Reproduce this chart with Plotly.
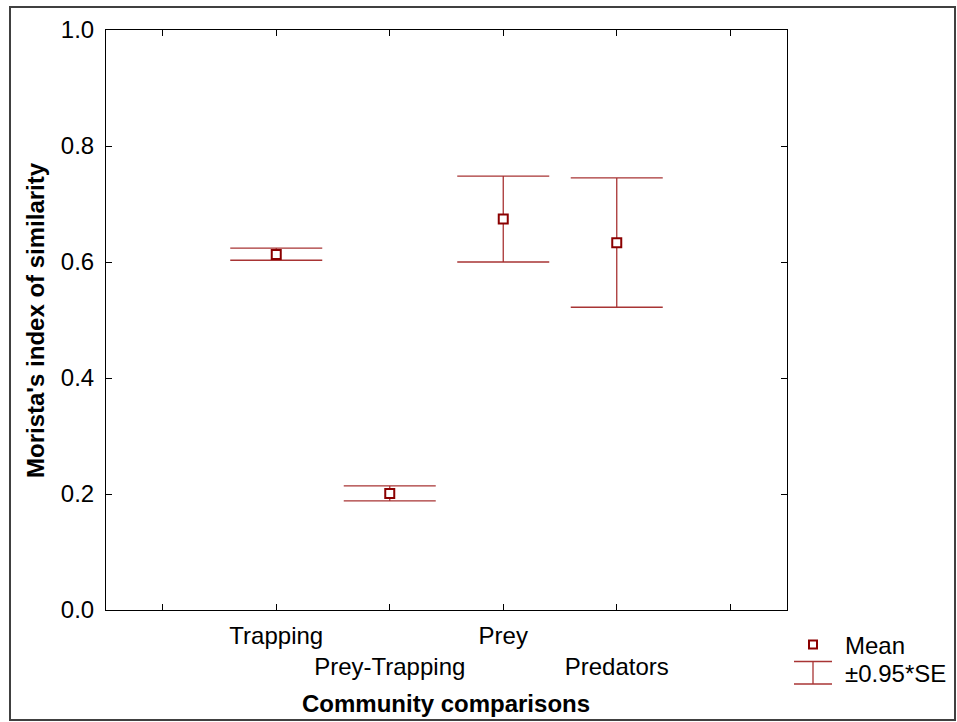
import plotly.graph_objects as go

categories = ["Trapping", "Prey-Trapping", "Prey", "Predators"]
means = [0.613, 0.201, 0.674, 0.633]
upper = [0.624, 0.214, 0.748, 0.745]
lower = [0.603, 0.188, 0.600, 0.522]

tick_text = ["", "Trapping", "<br>Prey-Trapping", "Prey", "<br>Predators", ""]
y_ticks = [0.0, 0.2, 0.4, 0.6, 0.8, 1.0]

xpos = list(range(1, len(categories) + 1))
err_plus = [u - m for u, m in zip(upper, means)]
err_minus = [m - l for m, l in zip(means, lower)]

FONT = "Arial, Liberation Sans, sans-serif"
ERR_COLOR = "#a83434"
MARK_COLOR = "#8b0000"
FS = 24

fig = go.Figure()
fig.add_trace(go.Scatter(
    x=xpos, y=means, mode="markers",
    marker=dict(symbol="square", size=9, color="white",
                line=dict(color=MARK_COLOR, width=2)),
    error_y=dict(type="data", symmetric=False, array=err_plus,
                 arrayminus=err_minus, color=ERR_COLOR, thickness=1.3, width=46),
    showlegend=False, hovertext=categories,
))

W, H = 957, 722
L, R, T, B = 106, 170, 30, 112
pw, ph = W - L - R, H - T - B

def px(x):
    return (x - L) / pw

def py(y):
    return (H - B - y) / ph

shapes = [
    dict(type="rect", xref="paper", yref="paper",
         x0=px(10), x1=px(955), y0=py(720), y1=py(7),
         line=dict(color="#404040", width=2)),
    dict(type="rect", xref="paper", yref="paper",
         x0=px(809), x1=px(817), y0=py(648.5), y1=py(640.5),
         line=dict(color=MARK_COLOR, width=2), fillcolor="white"),
    dict(type="line", xref="paper", yref="paper",
         x0=px(794), x1=px(832), y0=py(661.5), y1=py(661.5),
         line=dict(color=ERR_COLOR, width=1.3)),
    dict(type="line", xref="paper", yref="paper",
         x0=px(794), x1=px(832), y0=py(684), y1=py(684),
         line=dict(color=ERR_COLOR, width=1.3)),
    dict(type="line", xref="paper", yref="paper",
         x0=px(813), x1=px(813), y0=py(661.5), y1=py(684),
         line=dict(color=ERR_COLOR, width=1.3)),
]

annotations = [
    dict(xref="paper", yref="paper", x=px(843), y=py(645), text="Mean",
         showarrow=False, xanchor="left", yanchor="middle",
         font=dict(family=FONT, size=FS, color="black")),
    dict(xref="paper", yref="paper", x=px(843), y=py(673), text="±0.95*SE",
         showarrow=False, xanchor="left", yanchor="middle",
         font=dict(family=FONT, size=FS, color="black")),
    dict(xref="paper", yref="paper", x=px(446), y=py(703),
         text="<b>Community comparisons</b>",
         showarrow=False, xanchor="center", yanchor="middle",
         font=dict(family=FONT, size=FS, color="black")),
    dict(xref="paper", yref="paper", x=px(35), y=py(320),
         text="<b>Morista's index of similarity</b>", textangle=-90,
         showarrow=False, xanchor="center", yanchor="middle",
         font=dict(family=FONT, size=FS, color="black")),
]

axis_common = dict(showline=True, mirror="ticks", linecolor="black", linewidth=1,
                   ticks="inside", ticklen=6, tickcolor="black", showgrid=False,
                   zeroline=False, tickfont=dict(family=FONT, size=FS, color="black"))

fig.update_layout(
    width=W, height=H,
    margin=dict(l=L, r=R, t=T, b=B, autoexpand=False),
    paper_bgcolor="white", plot_bgcolor="white",
    shapes=shapes, annotations=annotations,
    xaxis=dict(range=[-0.5, 5.5], tickvals=list(range(0, 6)), ticktext=tick_text,
               tickangle=0, automargin=False, ticklabelstandoff=4,
               **axis_common),
    yaxis=dict(range=[0, 1.0], tickvals=y_ticks,
               ticktext=[f"{v:.1f}" for v in y_ticks],
               automargin=False, ticklabelstandoff=6,
               **axis_common),
)

fig.write_html("out.html")
